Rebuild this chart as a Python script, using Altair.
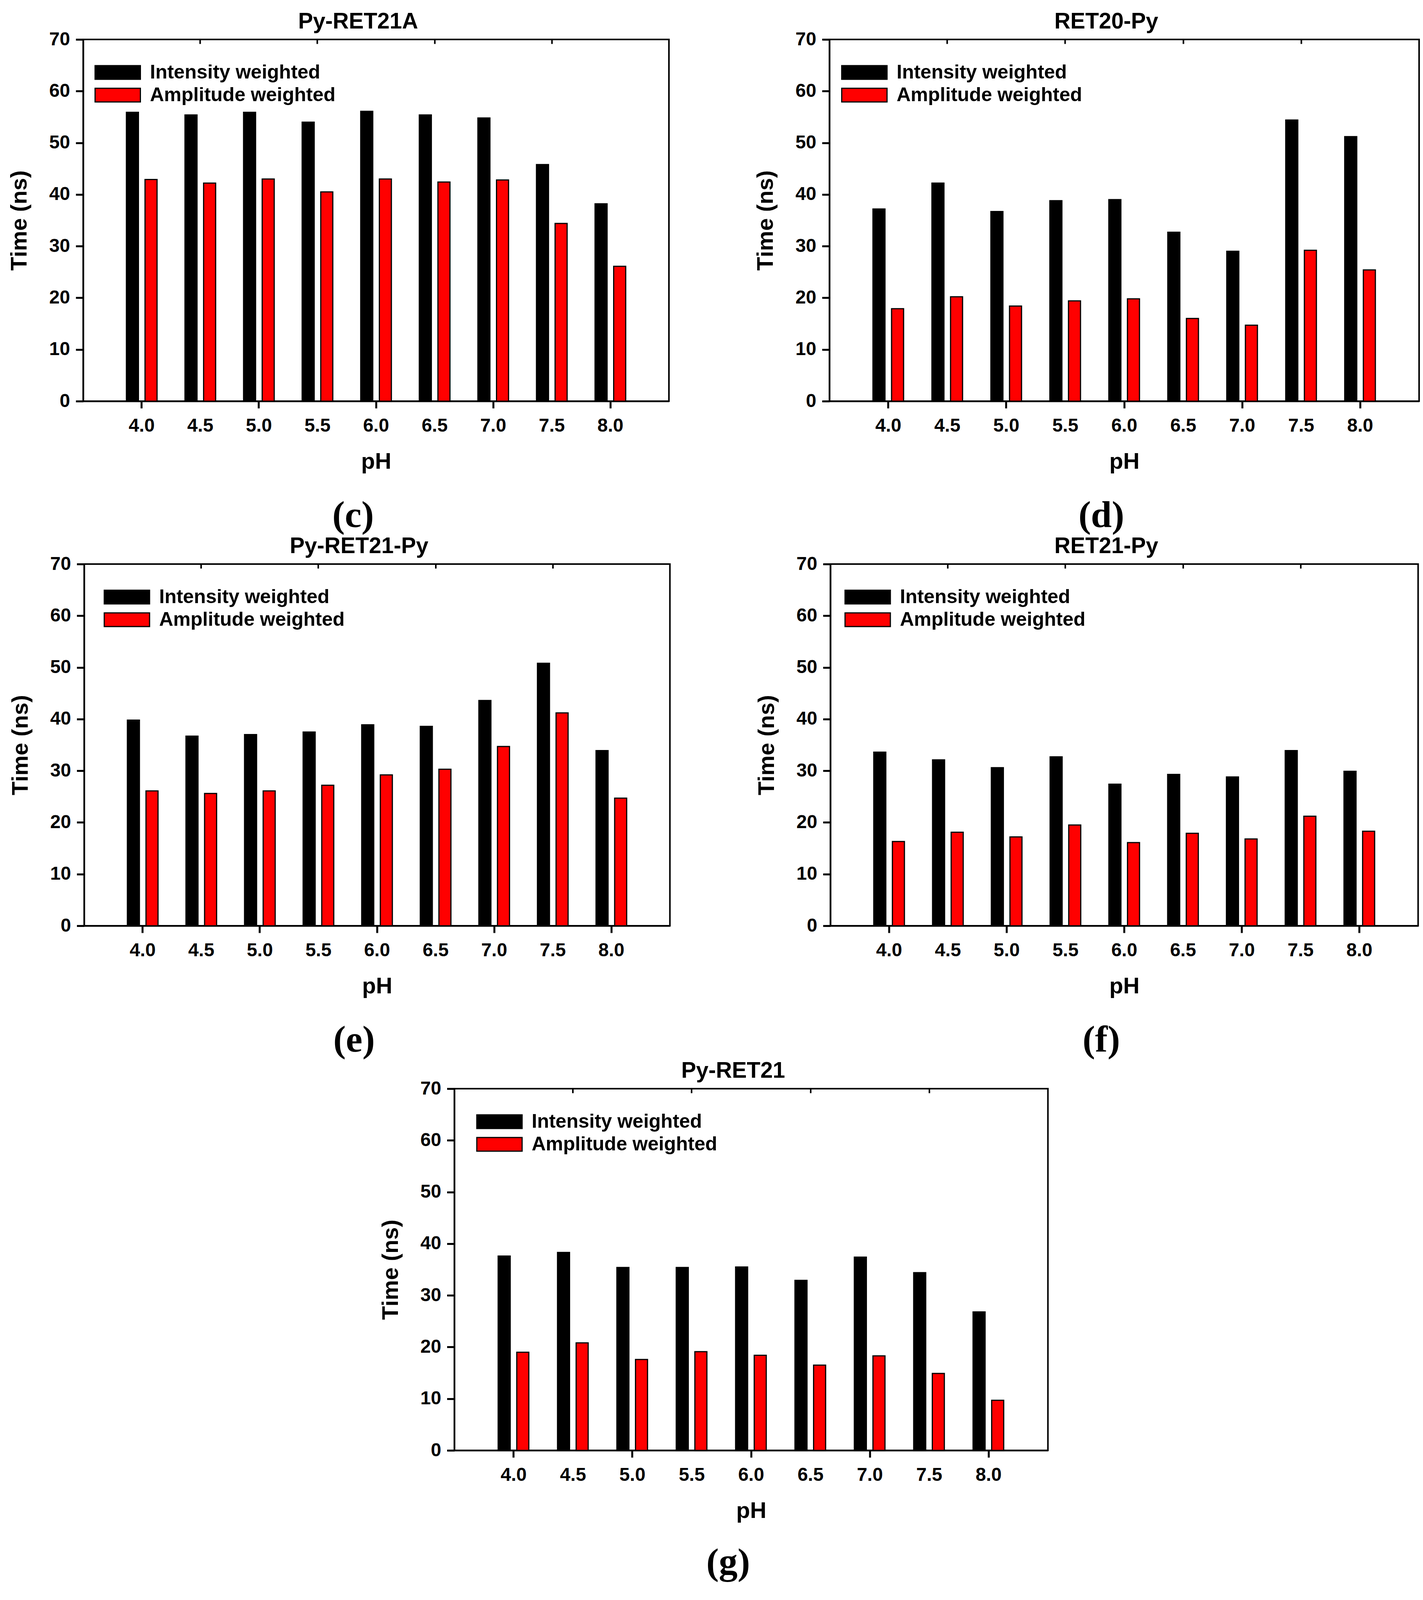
import altair as alt
import pandas as pd

ph_labels = ["4.0", "4.5", "5.0", "5.5", "6.0", "6.5", "7.0", "7.5", "8.0"]
minor_labels = ["4.5", "5.5", "6.5", "7.5"]
series_names = ["Intensity weighted", "Amplitude weighted"]
bar_colors = ["#000000", "#ff0000"]
y_ticks = [0, 10, 20, 30, 40, 50, 60, 70]

c_name = "Py-RET21A"
c_intensity = [55.9, 55.4, 55.9, 54.0, 56.1, 55.4, 54.8, 45.8, 38.2]
c_amplitude = [42.9, 42.2, 43.0, 40.5, 43.0, 42.4, 42.8, 34.4, 26.1]

d_name = "RET20-Py"
d_intensity = [37.2, 42.2, 36.7, 38.8, 39.0, 32.7, 29.0, 54.4, 51.2]
d_amplitude = [17.9, 20.2, 18.4, 19.4, 19.8, 16.0, 14.7, 29.2, 25.4]

e_name = "Py-RET21-Py"
e_intensity = [39.8, 36.7, 37.0, 37.5, 38.9, 38.6, 43.6, 50.8, 33.9]
e_amplitude = [26.1, 25.6, 26.1, 27.2, 29.2, 30.3, 34.7, 41.2, 24.7]

f_name = "RET21-Py"
f_intensity = [33.6, 32.1, 30.6, 32.7, 27.4, 29.3, 28.8, 33.9, 29.9]
f_amplitude = [16.3, 18.1, 17.2, 19.5, 16.1, 17.9, 16.8, 21.2, 18.3]

g_name = "Py-RET21"
g_intensity = [37.6, 38.3, 35.4, 35.4, 35.5, 32.9, 37.4, 34.4, 26.8]
g_amplitude = [19.0, 20.8, 17.6, 19.1, 18.4, 16.5, 18.3, 14.9, 9.7]

FONT = "Liberation Sans"


def panel(name, letter, inten, ampl, legend_x, width=1500, letter_offset=60):
    df = pd.DataFrame({
        "pH": ph_labels * 2,
        "series": [series_names[0]] * len(ph_labels) + [series_names[1]] * len(ph_labels),
        "time": inten + ampl,
    })
    offset_enc = alt.XOffset("series:N", sort=series_names, scale=alt.Scale(paddingInner=0.354))
    bars = alt.Chart(df).mark_bar(stroke="black", strokeWidth=3).encode(
        x=alt.X(
            "pH:N", sort=ph_labels,
            scale=alt.Scale(paddingInner=0.477, paddingOuter=0.738),
            axis=alt.Axis(
                title="pH", labelAngle=0, tickSize=18, labelPadding=21, titlePadding=39,
                tickOpacity={"condition": {"test": "indexof(['4.0','5.0','6.0','7.0','8.0'], datum.value) >= 0", "value": 1}, "value": 0},
            ),
        ),
        xOffset=offset_enc,
        y=alt.Y(
            "time:Q",
            scale=alt.Scale(domain=[0, 70], nice=False),
            axis=alt.Axis(title="Time (ns)", values=y_ticks, grid=False, tickSize=19,
                          labelPadding=15, titlePadding=46),
        ),
        color=alt.Color(
            "series:N", sort=series_names,
            scale=alt.Scale(domain=series_names, range=bar_colors),
            legend=alt.Legend(
                title=None, orient="none", legendX=legend_x, legendY=54,
                symbolType="M-2,-0.6L2,-0.6L2,0.6L-2,0.6Z", symbolSize=3364,
                symbolStrokeColor="black", symbolStrokeWidth=3, symbolOpacity=1,
                labelFont=FONT, labelFontSize=50, labelFontWeight="bold", labelColor="black",
                labelOffset=52, rowPadding=2, padding=0, labelLimit=1000,
            ),
        ),
    )
    top_ticks = alt.Chart(df).mark_bar(opacity=0).encode(
        x=alt.X(
            "pH:N", sort=ph_labels,
            axis=alt.Axis(orient="top", values=minor_labels, labels=False, domain=False,
                          title=None, tickSize=11, offset=-11, tickWidth=4),
        ),
        xOffset=offset_enc,
    )
    chart = alt.layer(bars, top_ticks).resolve_axis(x="independent").properties(
        width=width, height=926,
        title=alt.TitleParams(name, font=FONT, fontSize=57, fontWeight="bold", color="black",
                              offset=-8, frame="group", anchor="middle", dx=-46),
    )
    return alt.vconcat(
        chart,
        title=alt.TitleParams(letter, orient="bottom", font="Liberation Serif", fontSize=96,
                              fontWeight="bold", color="black", offset=letter_offset,
                              anchor="middle", dx=37),
    ).resolve_scale(color="independent")


col_c = panel(c_name, "(c)", c_intensity, c_amplitude, 58)
col_d = panel(d_name, "(d)", d_intensity, d_amplitude, 59, width=1510)
col_e = panel(e_name, "(e)", e_intensity, e_amplitude, 79)
col_f = panel(f_name, "(f)", f_intensity, f_amplitude, 65, width=1505)
col_g = panel(g_name, "(g)", g_intensity, g_amplitude, 85, width=1520, letter_offset=55)

row1 = alt.hconcat(col_c, col_d, spacing=215).resolve_scale(color="independent")
row2 = alt.hconcat(col_e, col_f, spacing=215).resolve_scale(color="independent")

chart = alt.vconcat(row1, row2, col_g, center=True, spacing=0).resolve_scale(
    color="independent"
).properties(
    padding={"left": 11, "top": 17, "right": 0, "bottom": 28}
).configure_axis(
    labelFont=FONT, labelFontSize=48, labelFontWeight="bold", labelColor="black",
    titleFont=FONT, titleFontSize=58, titleFontWeight="bold", titleColor="black",
    domainColor="black", domainWidth=4, tickColor="black", tickWidth=5,
).configure_view(
    stroke="black", strokeWidth=4
)

chart.save("out.html", embed_options={"renderer": "svg", "actions": False})
